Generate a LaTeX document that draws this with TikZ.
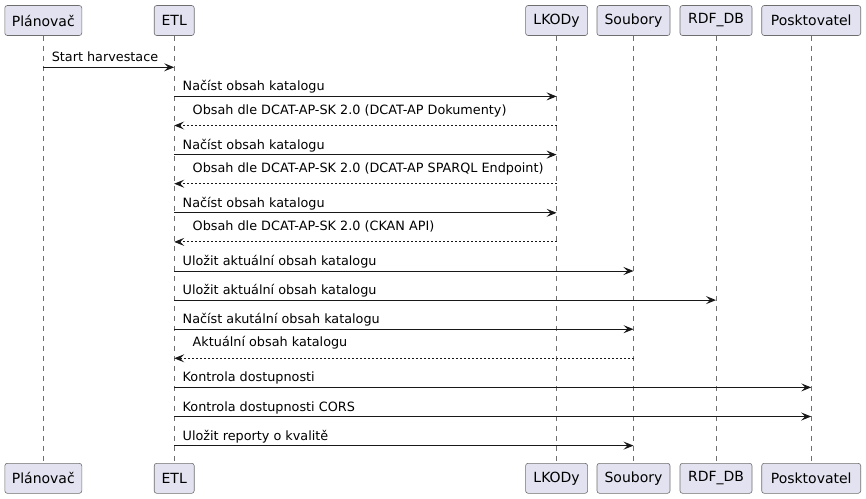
\documentclass[tikz,border=0pt]{standalone}
\usepackage{fontspec}
\setmainfont{DejaVu Sans}
\usetikzlibrary{arrows.meta}
\definecolor{partfill}{HTML}{E2E2F0}
\definecolor{partline}{HTML}{6E6E6E}
\definecolor{msgline}{HTML}{181818}
\tikzstyle{part}=[draw=partline,line width=0.6pt,fill=partfill,rounded corners=2.5pt,minimum height=30pt,inner sep=0pt,font=\fontsize{14}{16}\selectfont]
\tikzstyle{life}=[draw=partline,line width=0.6pt,dash pattern=on 5pt off 5pt]
\tikzstyle{msg}=[draw=msgline,line width=1pt,-{Stealth[length=10pt,width=8pt,inset=4pt]}]
\tikzstyle{ret}=[msg,dash pattern=on 2pt off 2pt]
\tikzstyle{lbl}=[font=\fontsize{12.8}{15}\selectfont,inner sep=0pt,anchor=base west,pos=0,xshift=8pt,yshift=5.5pt]
\tikzstyle{rlbl}=[lbl,pos=1,xshift=10pt,yshift=6pt]
\begin{document}
\begin{tikzpicture}[x=1pt,y=-1pt]
\useasboundingbox (0,0) rectangle (866,498);
% participants, top and bottom
\node[part,minimum width=77pt] (plan) at (43.3,20.5) {Plánovač};
\node[part,minimum width=40pt] (etl) at (174.2,20.5) {ETL};
\node[part,minimum width=62pt] (lkody) at (556.6,20.5) {LKODy};
\node[part,minimum width=73pt] (soub) at (633.5,20.5) {Soubory};
\node[part,minimum width=72pt] (rdf) at (716,20.5) {RDF\_DB};
\node[part,minimum width=99pt] (posk) at (811.2,20.5) {Posktovatel};
\node[part,minimum width=77pt] (planB) at (43.3,478.3) {Plánovač};
\node[part,minimum width=40pt] (etlB) at (174.2,478.3) {ETL};
\node[part,minimum width=62pt] (lkodyB) at (556.6,478.3) {LKODy};
\node[part,minimum width=73pt] (soubB) at (633.5,478.3) {Soubory};
\node[part,minimum width=72pt] (rdfB) at (716,478.3) {RDF\_DB};
\node[part,minimum width=99pt] (poskB) at (811.2,478.3) {Posktovatel};
% lifelines
\foreach \p in {plan,etl,lkody,soub,rdf,posk}
  \draw[life] (\p) -- (\p B);
% message rows
\foreach \i/\y in {1/67.3,2/96.4,3/125.5,4/154.6,5/183.7,6/212.8,7/241.9,8/271,9/300.1,10/329.2,11/358.3,12/387.4,13/416.5,14/445.6}
  \coordinate (r\i) at (0,\y);
\path
(plan |- r1) edge[msg] node[lbl] {Start harvestace} (etl |- r1)
(etl |- r2) edge[msg] node[lbl] {Načíst obsah katalogu} (lkody |- r2)
(lkody |- r3) edge[ret] node[rlbl] {Obsah dle DCAT-AP-SK 2.0 (DCAT-AP Dokumenty)} (etl |- r3)
(etl |- r4) edge[msg] node[lbl] {Načíst obsah katalogu} (lkody |- r4)
(lkody |- r5) edge[ret] node[rlbl] {Obsah dle DCAT-AP-SK 2.0 (DCAT-AP SPARQL Endpoint)} (etl |- r5)
(etl |- r6) edge[msg] node[lbl] {Načíst obsah katalogu} (lkody |- r6)
(lkody |- r7) edge[ret] node[rlbl] {Obsah dle DCAT-AP-SK 2.0 (CKAN API)} (etl |- r7)
(etl |- r8) edge[msg] node[lbl] {Uložit aktuální obsah katalogu} (soub |- r8)
(etl |- r9) edge[msg] node[lbl] {Uložit aktuální obsah katalogu} (rdf |- r9)
(etl |- r10) edge[msg] node[lbl] {Načíst akutální obsah katalogu} (soub |- r10)
(soub |- r11) edge[ret] node[rlbl] {Aktuální obsah katalogu} (etl |- r11)
(etl |- r12) edge[msg] node[lbl] {Kontrola dostupnosti} (posk |- r12)
(etl |- r13) edge[msg] node[lbl] {Kontrola dostupnosti CORS} (posk |- r13)
(etl |- r14) edge[msg] node[lbl] {Uložit reporty o kvalitě} (soub |- r14);
\end{tikzpicture}
\end{document}
